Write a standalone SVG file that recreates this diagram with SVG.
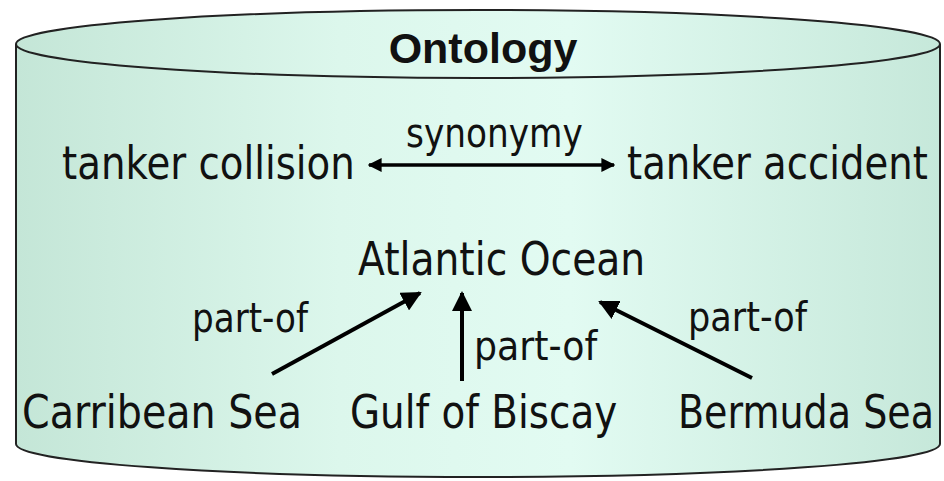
<svg xmlns="http://www.w3.org/2000/svg" width="944" height="481" viewBox="0 0 944 481">
<defs>
<linearGradient id="body" x1="0" y1="0" x2="1" y2="0">
<stop offset="0" stop-color="#c4e6d7"/>
<stop offset="0.35" stop-color="#dcf7ec"/>
<stop offset="0.6" stop-color="#e2fbf2"/>
<stop offset="1" stop-color="#c6e8da"/>
</linearGradient>
<marker id="ah" viewBox="0 0 10 10" refX="9" refY="5" markerWidth="5" markerHeight="5" markerUnits="strokeWidth" orient="auto-start-reverse">
<path d="M0,0 L10,5 L0,10 Z" fill="#000"/>
</marker>
<marker id="ah2" viewBox="0 0 10 10" refX="9" refY="5" markerWidth="4" markerHeight="4" markerUnits="strokeWidth" orient="auto-start-reverse">
<path d="M0,0 L10,5 L0,10 Z" fill="#000"/>
</marker>
</defs>
<style>
.t{font-family:"DejaVu Sans",Verdana,sans-serif;fill:#111;}
.big{font-size:46px;}
.lab{font-size:41px;}
.conn{stroke:#000;fill:none;}
</style>
<g id="cylinder">
<path d="M16,44 L16,444 A462,33 0 0 0 940,444 L940,44" fill="url(#body)" stroke="#222" stroke-width="2"/>
<ellipse cx="478" cy="44" rx="462" ry="34" fill="url(#body)" stroke="#222" stroke-width="2"/>
<text class="t" x="483" y="63" text-anchor="middle" style="font-family:'Liberation Sans',Arial,sans-serif;font-weight:bold;font-size:43px">Ontology</text>
</g>
<g id="tanker-collision"><text class="t big" transform="translate(62,179) scale(0.8,1)" textLength="366" lengthAdjust="spacingAndGlyphs">tanker collision</text></g>
<g id="tanker-accident"><text class="t big" transform="translate(627,179) scale(0.8,1)" textLength="376" lengthAdjust="spacingAndGlyphs">tanker accident</text></g>
<g id="atlantic-ocean"><text class="t big" transform="translate(358,275) scale(0.8,1)" textLength="359" lengthAdjust="spacingAndGlyphs">Atlantic Ocean</text></g>
<g id="carribean-sea"><text class="t big" transform="translate(22,428) scale(0.8,1)" textLength="350" lengthAdjust="spacingAndGlyphs">Carribean Sea</text></g>
<g id="gulf-of-biscay"><text class="t big" transform="translate(350,428) scale(0.8,1)" textLength="334" lengthAdjust="spacingAndGlyphs">Gulf of Biscay</text></g>
<g id="bermuda-sea"><text class="t big" transform="translate(678,428) scale(0.8,1)" textLength="320" lengthAdjust="spacingAndGlyphs">Bermuda Sea</text></g>
<g id="connectors">
<line class="conn" x1="369" y1="165" x2="614" y2="165" stroke-width="3.5" marker-start="url(#ah2)" marker-end="url(#ah2)"/>
<line class="conn" x1="272" y1="374" x2="420" y2="293" stroke-width="4" marker-end="url(#ah)"/>
<line class="conn" x1="462" y1="381" x2="462" y2="293" stroke-width="4" marker-end="url(#ah)"/>
<line class="conn" x1="752" y1="378" x2="600" y2="302" stroke-width="4" marker-end="url(#ah)"/>
<text class="t lab" transform="translate(406,147) scale(0.8,1)" textLength="221" lengthAdjust="spacingAndGlyphs">synonymy</text>
<text class="t lab" transform="translate(192,332) scale(0.8,1)" textLength="145" lengthAdjust="spacingAndGlyphs">part-of</text>
<text class="t lab" transform="translate(474,360) scale(0.8,1)" textLength="154" lengthAdjust="spacingAndGlyphs">part-of</text>
<text class="t lab" transform="translate(688,331) scale(0.8,1)" textLength="149" lengthAdjust="spacingAndGlyphs">part-of</text>
</g>
</svg>
